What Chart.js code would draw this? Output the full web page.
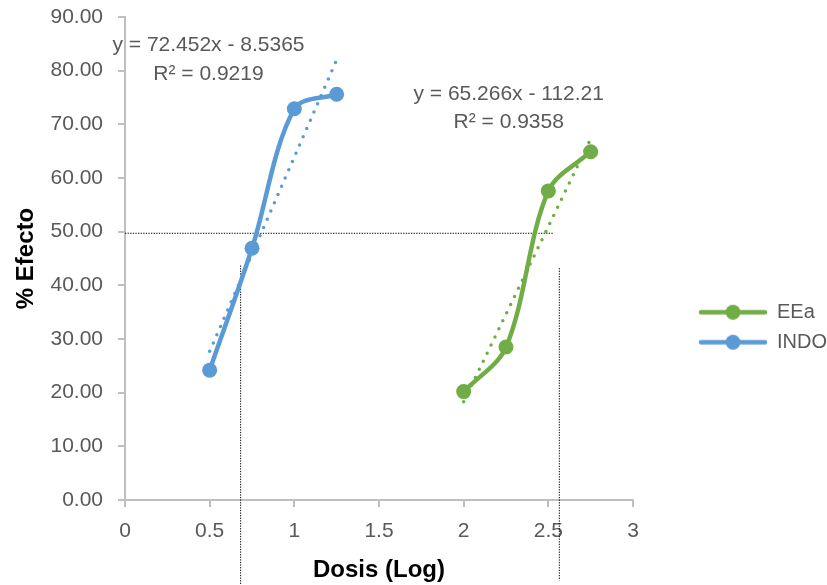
<!DOCTYPE html>
<html><head><meta charset="utf-8">
<script src="https://cdn.jsdelivr.net/npm/chart.js@4"></script>
<style>html,body{margin:0;padding:0;background:#fff}</style>
</head><body>
<canvas id="c" width="827" height="585"></canvas>
<script>
// ---- data ----
const seriesNames = ['EEa', 'INDO'];
const doseEEa = [2, 2.25, 2.5, 2.75];
const effectEEa = [20.2, 28.5, 57.6, 64.9];
const doseINDO = [0.5, 0.75, 1, 1.25];
const effectINDO = [24.2, 46.9, 72.9, 75.6];
// linear trendlines (endpoints of the dotted lines)
const trendEEaX = [2, 2.75];
const trendEEaY = [18.3, 67.3];
const trendINDOX = [0.5, 1.25];
const trendINDOY = [27.7, 82.0];
// black dotted guide lines
const guideHX = [0, 2.53];
const guideHY = [49.7, 49.7];
const guideV1X = [0.683, 0.683];
const guideV1Y = [43.7, -16];
const guideV2X = [2.565, 2.565];
const guideV2Y = [43.2, -15];
// equation labels
const eqLinesINDO = ['y = 72.452x - 8.5365', 'R\u00B2 = 0.9219'];
const eqLinesEEa = ['y = 65.266x - 112.21', 'R\u00B2 = 0.9358'];
const eqPosX = [0.493, 2.266];
const eqPosY = [84.7, 75.7];
// axes
const xTicks = [0, 0.5, 1, 1.5, 2, 2.5, 3];
const yTicks = [0, 10, 20, 30, 40, 50, 60, 70, 80, 90];

const GREEN = '#70AD47', BLUE = '#5B9BD5', TXT = '#595959', AX = '#BFBFBF';
const FONT = "'Liberation Sans', Arial, sans-serif";

function pts(xs, ys) { return xs.map((x, i) => ({x: x, y: ys[i]})); }

function legendIcon(color) {
  const c = document.createElement('canvas');
  c.width = 124; c.height = 17;
  const g = c.getContext('2d');
  g.strokeStyle = color; g.lineWidth = 4.5; g.lineCap = 'round';
  g.beginPath(); g.moveTo(58, 8.5); g.lineTo(122, 8.5); g.stroke();
  g.fillStyle = color;
  g.beginPath(); g.arc(90, 8.5, 7.5, 0, Math.PI * 2); g.fill();
  return c;
}
const icons = [legendIcon(GREEN), legendIcon(BLUE)];

const eqPlugin = {
  id: 'eqText',
  afterDatasetsDraw(chart) {
    const {ctx, scales: {x, y}} = chart;
    const blocks = [eqLinesINDO, eqLinesEEa];
    ctx.save();
    ctx.fillStyle = TXT;
    ctx.font = '21px ' + FONT;
    ctx.textAlign = 'center';
    ctx.textBaseline = 'middle';
    blocks.forEach((lines, i) => {
      const px = x.getPixelForValue(eqPosX[i]);
      const py = y.getPixelForValue(eqPosY[i]);
      lines.forEach((t, j) => ctx.fillText(t, px, py + j * 28.5));
    });
    ctx.restore();
  }
};

const guideStyle = {
  showLine: true, pointRadius: 0, borderColor: '#000', borderWidth: 1,
  borderDash: [1.3, 1.3], fill: false, clip: false, order: 10, tension: 0
};

new Chart(document.getElementById('c'), {
  type: 'scatter',
  data: {
    datasets: [
      {label: seriesNames[0], data: pts(doseEEa, effectEEa), showLine: true, borderColor: GREEN,
       backgroundColor: GREEN, borderWidth: 4.5, pointRadius: 7.5, pointHoverRadius: 7.5,
       pointBorderWidth: 0, tension: 0.33, order: 0},
      {label: seriesNames[1], data: pts(doseINDO, effectINDO), showLine: true, borderColor: BLUE,
       backgroundColor: BLUE, borderWidth: 4.5, pointRadius: 7.5, pointHoverRadius: 7.5,
       pointBorderWidth: 0, tension: 0.33, order: 0},
      {label: 'trend EEa', data: pts(trendEEaX, trendEEaY), showLine: true, borderColor: GREEN,
       borderWidth: 3.5, borderDash: [0, 9], borderCapStyle: 'round', pointRadius: 0, order: 5},
      {label: 'trend INDO', data: pts(trendINDOX, trendINDOY), showLine: true, borderColor: BLUE,
       borderWidth: 3.5, borderDash: [0, 9], borderCapStyle: 'round', pointRadius: 0, order: 5},
      Object.assign({label: 'g1', data: pts(guideHX, guideHY)}, guideStyle),
      Object.assign({label: 'g2', data: pts(guideV1X, guideV1Y)}, guideStyle),
      Object.assign({label: 'g3', data: pts(guideV2X, guideV2Y)}, guideStyle)
    ]
  },
  options: {
    responsive: false,
    animation: false,
    devicePixelRatio: 1,
    layout: {padding: {top: 17, left: 0, right: 0, bottom: 0}},
    scales: {
      x: {
        type: 'linear', min: 0, max: 3,
        afterBuildTicks(s) { s.ticks = xTicks.map(v => ({value: v})); },
        afterFit(s) { s.height = 85; s.paddingLeft = 0; s.paddingRight = 0; },
        ticks: {color: TXT, font: {family: FONT, size: 21}, padding: 12,
                callback: v => String(v)},
        grid: {display: true, drawOnChartArea: false, drawTicks: true, tickLength: 7,
               color: AX, lineWidth: 2},
        border: {display: true, color: AX, width: 2},
        title: {display: true, text: 'Dosis (Log)', color: '#000',
                font: {family: FONT, size: 24, weight: 'bold'}, padding: {top: 0, bottom: 0}}
      },
      y: {
        type: 'linear', min: 0, max: 90,
        afterBuildTicks(s) { s.ticks = yTicks.map(v => ({value: v})); },
        afterFit(s) { s.width = 125; s.paddingTop = 0; s.paddingBottom = 0; },
        ticks: {color: TXT, font: {family: FONT, size: 21}, padding: 15,
                callback: v => Number(v).toFixed(2)},
        grid: {display: true, drawOnChartArea: false, drawTicks: true, tickLength: 7,
               color: AX, lineWidth: 2},
        border: {display: true, color: AX, width: 2},
        title: {display: true, text: '% Efecto', color: '#000',
                font: {family: FONT, size: 24, weight: 'bold'}, padding: {top: 12, bottom: 0}}
      }
    },
    plugins: {
      tooltip: {enabled: false},
      legend: {
        position: 'right', align: 'center', maxWidth: 194,
        title: {display: true, text: '', font: {size: 12}, padding: {top: 19, bottom: 19}},
        labels: {
          usePointStyle: true, pointStyleWidth: 124, padding: 10,
          color: TXT, font: {family: FONT, size: 20},
          generateLabels: () => seriesNames.map((n, i) => ({
            text: n, pointStyle: icons[i], fillStyle: 'transparent', strokeStyle: 'transparent',
            lineWidth: 0, hidden: false, datasetIndex: i, fontColor: TXT
          }))
        }
      }
    }
  },
  plugins: [eqPlugin]
});
</script>
</body></html>
